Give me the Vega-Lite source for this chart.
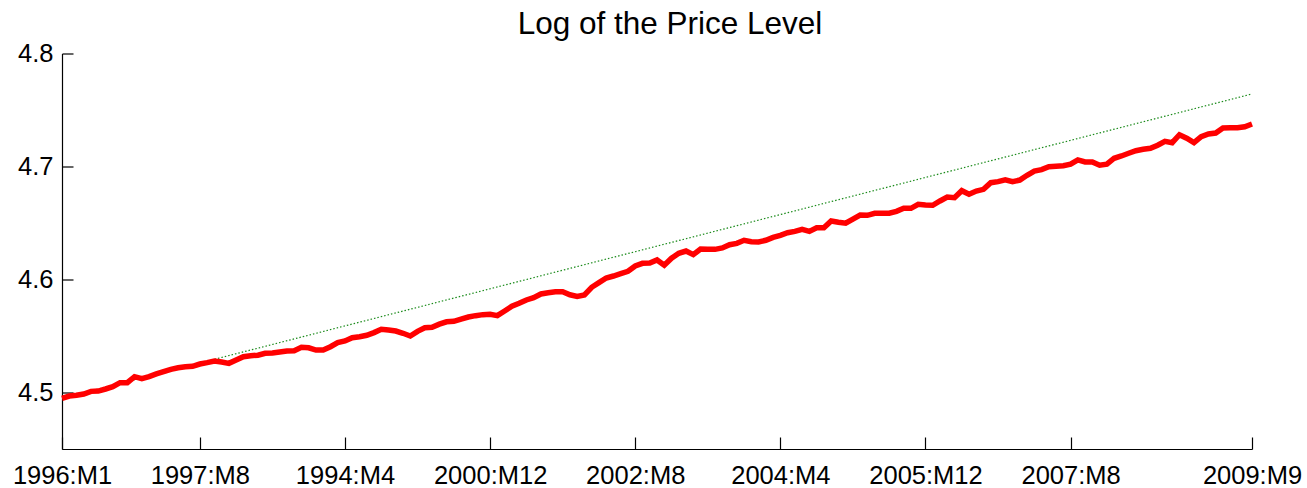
{
  "$schema": "https://vega.github.io/schema/vega-lite/v6.json",
  "autosize": {"type": "none"},
  "width": 1190,
  "height": 395.5,
  "padding": {"left": 62, "top": 53.5, "right": 55, "bottom": 39},
  "background": "white",
  "config": {
    "view": {"stroke": null},
    "font": "Liberation Sans",
    "axis": {"grid": false, "domainColor": "#000000", "tickColor": "#000000", "labelColor": "#000000", "labelFont": "Liberation Sans", "labelFontSize": 25.5, "domainWidth": 1.2, "tickWidth": 1.2, "title": null}
  },
  "title": {"text": "Log of the Price Level", "fontSize": 31.5, "fontWeight": "normal", "font": "Liberation Sans", "color": "#000000", "anchor": "middle", "dx": 13, "dy": 28, "baseline": "alphabetic", "offset": 4},
  "datasets": {
    "price": [
      {"t":0,"p":4.4949},{"t":1,"p":4.4969},{"t":2,"p":4.4975},{"t":3,"p":4.4987},{"t":4,"p":4.5010},{"t":5,"p":4.5013},{"t":6,"p":4.5031},{"t":7,"p":4.5051},{"t":8,"p":4.5087},{"t":9,"p":4.5087},
      {"t":10,"p":4.5140},{"t":11,"p":4.5122},{"t":12,"p":4.5140},{"t":13,"p":4.5164},{"t":14,"p":4.5184},{"t":15,"p":4.5205},{"t":16,"p":4.5219},{"t":17,"p":4.5228},{"t":18,"p":4.5232},{"t":19,"p":4.5252},
      {"t":20,"p":4.5264},{"t":21,"p":4.5279},{"t":22,"p":4.5270},{"t":23,"p":4.5258},{"t":24,"p":4.5288},{"t":25,"p":4.5317},{"t":26,"p":4.5326},{"t":27,"p":4.5330},{"t":28,"p":4.5347},{"t":29,"p":4.5350},
      {"t":30,"p":4.5358},{"t":31,"p":4.5367},{"t":32,"p":4.5370},{"t":33,"p":4.5400},{"t":34,"p":4.5396},{"t":35,"p":4.5376},{"t":36,"p":4.5376},{"t":37,"p":4.5405},{"t":38,"p":4.5441},{"t":39,"p":4.5456},
      {"t":40,"p":4.5485},{"t":41,"p":4.5494},{"t":42,"p":4.5506},{"t":43,"p":4.5530},{"t":44,"p":4.5560},{"t":45,"p":4.5553},{"t":46,"p":4.5544},{"t":47,"p":4.5524},{"t":48,"p":4.5500},{"t":49,"p":4.5541},
      {"t":50,"p":4.5573},{"t":51,"p":4.5577},{"t":52,"p":4.5605},{"t":53,"p":4.5626},{"t":54,"p":4.5630},{"t":55,"p":4.5650},{"t":56,"p":4.5668},{"t":57,"p":4.5680},{"t":58,"p":4.5689},{"t":59,"p":4.5692},
      {"t":60,"p":4.5680},{"t":61,"p":4.5721},{"t":62,"p":4.5763},{"t":63,"p":4.5789},{"t":64,"p":4.5819},{"t":65,"p":4.5839},{"t":66,"p":4.5872},{"t":67,"p":4.5883},{"t":68,"p":4.5892},{"t":69,"p":4.5892},
      {"t":70,"p":4.5865},{"t":71,"p":4.5851},{"t":72,"p":4.5863},{"t":73,"p":4.5931},{"t":74,"p":4.5972},{"t":75,"p":4.6013},{"t":76,"p":4.6031},{"t":77,"p":4.6052},{"t":78,"p":4.6073},{"t":79,"p":4.6120},
      {"t":80,"p":4.6143},{"t":81,"p":4.6146},{"t":82,"p":4.6173},{"t":83,"p":4.6126},{"t":84,"p":4.6188},{"t":85,"p":4.6232},{"t":86,"p":4.6252},{"t":87,"p":4.6220},{"t":88,"p":4.6270},{"t":89,"p":4.6267},
      {"t":90,"p":4.6267},{"t":91,"p":4.6279},{"t":92,"p":4.6308},{"t":93,"p":4.6320},{"t":94,"p":4.6347},{"t":95,"p":4.6335},{"t":96,"p":4.6332},{"t":97,"p":4.6347},{"t":98,"p":4.6373},{"t":99,"p":4.6391},
      {"t":100,"p":4.6414},{"t":101,"p":4.6426},{"t":102,"p":4.6444},{"t":103,"p":4.6426},{"t":104,"p":4.6458},{"t":105,"p":4.6458},{"t":106,"p":4.6518},{"t":107,"p":4.6507},{"t":108,"p":4.6498},{"t":109,"p":4.6535},
      {"t":110,"p":4.6570},{"t":111,"p":4.6568},{"t":112,"p":4.6586},{"t":113,"p":4.6586},{"t":114,"p":4.6586},{"t":115,"p":4.6603},{"t":116,"p":4.6630},{"t":117,"p":4.6630},{"t":118,"p":4.6665},{"t":119,"p":4.6659},
      {"t":120,"p":4.6657},{"t":121,"p":4.6695},{"t":122,"p":4.6730},{"t":123,"p":4.6724},{"t":124,"p":4.6786},{"t":125,"p":4.6754},{"t":126,"p":4.6783},{"t":127,"p":4.6798},{"t":128,"p":4.6857},{"t":129,"p":4.6866},
      {"t":130,"p":4.6883},{"t":131,"p":4.6866},{"t":132,"p":4.6880},{"t":133,"p":4.6922},{"t":134,"p":4.6960},{"t":135,"p":4.6972},{"t":136,"p":4.6998},{"t":137,"p":4.7002},{"t":138,"p":4.7007},{"t":139,"p":4.7020},
      {"t":140,"p":4.7058},{"t":141,"p":4.7040},{"t":142,"p":4.7040},{"t":143,"p":4.7011},{"t":144,"p":4.7020},{"t":145,"p":4.7073},{"t":146,"p":4.7093},{"t":147,"p":4.7117},{"t":148,"p":4.7140},{"t":149,"p":4.7152},
      {"t":150,"p":4.7161},{"t":151,"p":4.7188},{"t":152,"p":4.7223},{"t":153,"p":4.7211},{"t":154,"p":4.7281},{"t":155,"p":4.7250},{"t":156,"p":4.7211},{"t":157,"p":4.7264},{"t":158,"p":4.7288},{"t":159,"p":4.7296},
      {"t":160,"p":4.7341},{"t":161,"p":4.7343},{"t":162,"p":4.7343},{"t":163,"p":4.7352},{"t":164,"p":4.7376}
    ],
    "trend": [
      {"t":0,"p":4.4949},{"t":164,"p":4.7642}
    ]
  },
  "encoding": {
    "x": {
      "field": "t", "type": "quantitative",
      "scale": {"domain": [0, 164], "nice": false, "zero": false},
      "axis": {
        "values": [0, 19, 39, 59, 79, 99, 119, 139, 164],
        "labelExpr": "['1996:M1','1997:M8','1994:M4','2000:M12','2002:M8','2004:M4','2005:M12','2007:M8','2009:M9'][indexof([0,19,39,59,79,99,119,139,164], datum.value)]",
        "tickSize": -12, "labelPadding": 26, "labelFlush": false, "labelOverlap": false
      }
    },
    "y": {
      "field": "p", "type": "quantitative",
      "scale": {"domain": [4.45, 4.8], "nice": false, "zero": false},
      "axis": {"values": [4.5, 4.6, 4.7, 4.8], "format": ".1f", "tickSize": -11, "labelPadding": 20}
    }
  },
  "layer": [
    {
      "data": {"name": "trend"},
      "mark": {"type": "line", "color": "#1a8a1a", "strokeWidth": 1.2, "strokeDash": [1.5, 2]}
    },
    {
      "data": {"name": "price"},
      "mark": {"type": "line", "color": "#ff0000", "strokeWidth": 5.5}
    }
  ]
}
